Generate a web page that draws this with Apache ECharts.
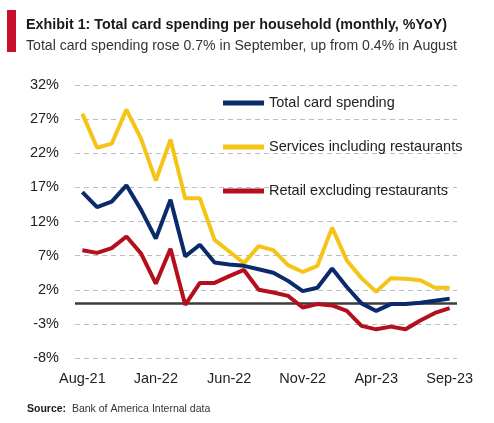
<!DOCTYPE html>
<html>
<head>
<meta charset="utf-8">
<script src="https://cdn.jsdelivr.net/npm/echarts@6/dist/echarts.min.js"></script>
<style>
html,body{margin:0;padding:0;background:#fff;}
#c{width:494px;height:423px;}
</style>
</head>
<body>
<div id="c"></div>
<script>
var categories = ['Aug-21','Sep-21','Oct-21','Nov-21','Dec-21','Jan-22','Feb-22','Mar-22','Apr-22','May-22','Jun-22','Jul-22','Aug-22','Sep-22','Oct-22','Nov-22','Dec-22','Jan-23','Feb-23','Mar-23','Apr-23','May-23','Jun-23','Jul-23','Aug-23','Sep-23'];
var totalCard = [16.3,14.1,14.9,17.3,13.7,9.5,15.2,6.9,8.6,6.0,5.7,5.5,5.0,4.5,3.3,1.8,2.3,5.1,2.4,0.0,-1.1,-0.1,-0.1,0.1,0.4,0.7];
var services = [27.8,22.8,23.4,28.4,24.1,18.0,24.0,15.4,15.4,9.3,7.6,5.9,8.4,7.8,5.6,4.6,5.5,11.1,6.3,3.7,1.7,3.7,3.6,3.4,2.3,2.3];
var retail = [7.8,7.4,8.1,9.8,7.3,2.9,8.0,-0.2,3.0,3.0,4.0,4.9,2.0,1.6,1.1,-0.6,-0.1,-0.3,-1.1,-3.3,-3.8,-3.4,-3.8,-2.5,-1.4,-0.7];
var seriesNames = ['Total card spending','Services including restaurants','Retail excluding restaurants'];
var yMin = -8, yMax = 32, yStep = 5;

var FONT = "'Liberation Sans Narrow','Liberation Sans','Noto Sans',sans-serif";
var chart = echarts.init(document.getElementById('c'), null, {renderer:'canvas'});
chart.setOption({
  backgroundColor:'#fff',
  animation:false,
  textStyle:{fontFamily:FONT},
  title:{
    text:'Exhibit 1: Total card spending per household (monthly, %YoY)',
    subtext:'Total card spending rose 0.7% in September, up from 0.4% in August',
    left:21, top:11, itemGap:3,
    textStyle:{fontFamily:FONT,fontSize:14.3,fontWeight:'bold',color:'#1a1a1a',lineHeight:18},
    subtextStyle:{fontFamily:FONT,fontSize:14.1,color:'#333',lineHeight:18}
  },
  graphic:[
    {type:'rect',left:7,top:10,shape:{width:9,height:42},style:{fill:'#C8102E'}},
    {type:'text',left:27,top:404,style:{
      text:'{b|Source:}  Bank of America Internal data',
      rich:{b:{fontWeight:'bold',fontSize:10.5,fontFamily:FONT,fill:'#1a1a1a'}},
      fontSize:10.5,fontFamily:FONT,fill:'#333'}}
  ],
  legend:{
    orient:'vertical', left:218, top:88,
    icon:'rect', itemWidth:41, itemHeight:5, itemGap:24,
    textStyle:{fontFamily:FONT,fontSize:14.5,color:'#222',lineHeight:20},
    data:seriesNames
  },
  grid:{left:75,right:37,top:85,bottom:65},
  xAxis:{
    type:'category', data:categories, boundaryGap:true,
    axisLine:{show:false}, axisTick:{show:false},
    axisLabel:{interval:4,fontSize:14.5,color:'#222',margin:13,fontFamily:FONT}
  },
  yAxis:{
    type:'value', min:yMin, max:yMax, interval:yStep,
    axisLine:{show:false}, axisTick:{show:false},
    axisLabel:{formatter:'{value}%',fontSize:14.5,color:'#222',margin:16,fontFamily:FONT},
    splitLine:{show:true,lineStyle:{color:'#bdbdbd',type:[5,4],width:1}}
  },
  series:[
    {name:seriesNames[0],type:'line',data:totalCard,symbol:'none',z:4,
      lineStyle:{color:'#0B2A6B',width:4},itemStyle:{color:'#0B2A6B'},
      markLine:{silent:true,symbol:['none','none'],label:{show:false},
        lineStyle:{color:'#3d3d3d',width:2.5,type:'solid'},data:[{yAxis:0}],z:1}},
    {name:seriesNames[1],type:'line',data:services,symbol:'none',z:3,
      lineStyle:{color:'#F6C417',width:4},itemStyle:{color:'#F6C417'}},
    {name:seriesNames[2],type:'line',data:retail,symbol:'none',z:3,
      lineStyle:{color:'#B30F1C',width:4},itemStyle:{color:'#B30F1C'}}
  ]
});
</script>
</body>
</html>
